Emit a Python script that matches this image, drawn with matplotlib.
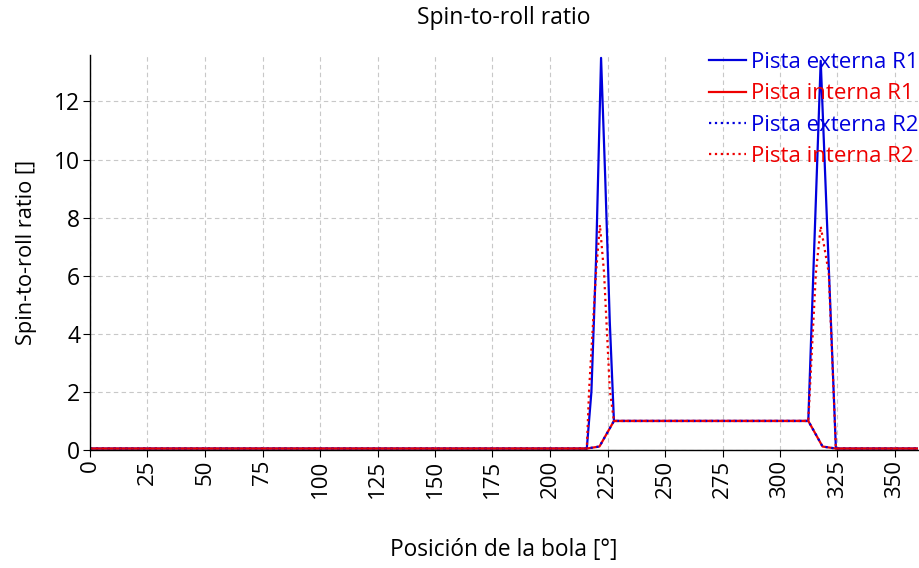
import matplotlib
matplotlib.use("Agg")
import matplotlib.pyplot as plt

plt.rcParams['font.family'] = ['Open Sans', 'DejaVu Sans']

# Data (angle in degrees, spin-to-roll ratio)
ext_r1_angle = [0, 216, 218, 220, 222.2, 224, 226, 227.8, 312.3, 314.5, 317.7, 321.3, 324.3, 360]
ext_r1_value = [0.05, 0.05, 2.0, 6.5, 13.5, 9.4, 4.4, 1.0, 1.0, 6.1, 13.4, 6.1, 0.05, 0.05]

int_r1_angle = [0, 216, 221.5, 227.8, 312.3, 318.5, 324.3, 360]
int_r1_value = [0.05, 0.05, 0.12, 1.0, 1.0, 0.12, 0.05, 0.05]

ext_r2_angle = [0, 216, 221.5, 227.8, 312.3, 318.5, 324.3, 360]
ext_r2_value = [0.05, 0.05, 0.12, 1.0, 1.0, 0.12, 0.05, 0.05]

int_r2_angle = [0, 216, 217, 220, 221.7, 223.5, 226, 227.8, 312.3, 315.6, 317.7, 321.2, 324.3, 360]
int_r2_value = [0.05, 0.05, 2.07, 6.1, 7.75, 6.1, 2.07, 1.0, 1.0, 6.1, 7.7, 6.1, 0.05, 0.05]

labels = ["Pista externa R1", "Pista interna R1", "Pista externa R2", "Pista interna R2"]
x_ticks = list(range(0, 351, 25))
y_ticks = list(range(0, 13, 2))

fig = plt.figure(figsize=(9.2, 5.68), dpi=100)
ax = fig.add_axes([90/920, 1 - 450/568, 828/920, 395/568])

ax.plot(ext_r1_angle, ext_r1_value, color='#0000dd', lw=1.6, ls='-', label=labels[0])
ax.plot(int_r1_angle, int_r1_value, color='#ee0000', lw=1.6, ls='-', label=labels[1])
ax.plot(ext_r2_angle, ext_r2_value, color='#0000dd', lw=1.6, ls=':', label=labels[2])
ax.plot(int_r2_angle, int_r2_value, color='#ee0000', lw=1.6, ls=':', label=labels[3])

ax.set_xlim(0, 360)
ax.set_ylim(0, 13.6)
ax.set_xticks(x_ticks)
ax.set_yticks(y_ticks)
ax.tick_params(axis='x', labelrotation=90, labelsize=16, length=5, color='black', pad=2)
ax.tick_params(axis='y', labelsize=16.5, length=5, color='black', pad=2)
ax.grid(True, ls=(0, (4, 3)), color='#c8c8c8', lw=0.8)
ax.set_axisbelow(True)
for s in ['top', 'right']:
    ax.spines[s].set_visible(False)
for s in ['left', 'bottom']:
    ax.spines[s].set_color('black')
    ax.spines[s].set_linewidth(1.0)

ax.set_xlabel("Posición de la bola [°]", fontsize=16.4, labelpad=29)
ax.set_ylabel("Spin-to-roll ratio []", fontsize=15.7, labelpad=12)
fig.text(504/920, 1 - 18/568, "Spin-to-roll ratio", ha='center', va='center', fontsize=16.5)

leg = fig.legend(loc='upper right', bbox_to_anchor=(1.0085, 1 - 43/568), frameon=False,
                 fontsize=16, labelcolor='linecolor', handlelength=1.67, handletextpad=0.25,
                 labelspacing=0.47, borderaxespad=0)

fig.savefig("out.png", dpi=100)
